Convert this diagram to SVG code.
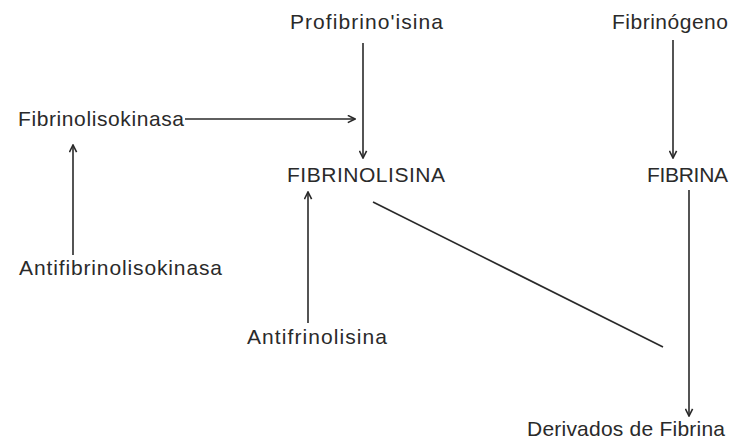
<svg xmlns="http://www.w3.org/2000/svg" width="735" height="445" viewBox="0 0 735 445">
<style>
text{font-family:"Liberation Sans",Arial,sans-serif;font-size:21px;fill:#2a2a2a}
.c line{stroke:#2a2a2a;stroke-width:1.6;fill:none}
</style>
<defs>
<marker id="ah" viewBox="0 0 10 10" refX="9" refY="5" markerWidth="9" markerHeight="9" markerUnits="userSpaceOnUse" orient="auto">
<path d="M1,1 L9,5 L1,9" fill="none" stroke="#2a2a2a" stroke-width="1.8"/>
</marker>
</defs>
<rect width="735" height="445" fill="#fff"/>
<g id="profibrinolisina"><text x="290" y="29" textLength="153" lengthAdjust="spacing">Profibrino'isina</text></g>
<g id="fibrinogeno"><text x="612" y="29" textLength="116" lengthAdjust="spacing">Fibrinógeno</text></g>
<g id="fibrinolisokinasa"><text x="18" y="126" textLength="166" lengthAdjust="spacing">Fibrinolisokinasa</text></g>
<g id="fibrinolisina"><text x="287" y="182" textLength="158" lengthAdjust="spacing">FIBRINOLISINA</text></g>
<g id="fibrina"><text x="647" y="182" textLength="81" lengthAdjust="spacing">FIBRINA</text></g>
<g id="antifibrinolisokinasa"><text x="19" y="275" textLength="203" lengthAdjust="spacing">Antifibrinolisokinasa</text></g>
<g id="antifrinolisina"><text x="247" y="344" textLength="140" lengthAdjust="spacing">Antifrinolisina</text></g>
<g id="derivados"><text x="527" y="436" textLength="198" lengthAdjust="spacing">Derivados de Fibrina</text></g>
<g id="connectors" class="c">
<line x1="363" y1="43" x2="363" y2="158" marker-end="url(#ah)"/>
<line x1="185" y1="119" x2="355" y2="119" marker-end="url(#ah)"/>
<line x1="673" y1="40" x2="673" y2="158" marker-end="url(#ah)"/>
<line x1="73" y1="255" x2="73" y2="145" marker-end="url(#ah)"/>
<line x1="308" y1="323" x2="308" y2="192" marker-end="url(#ah)"/>
<line x1="689" y1="190" x2="689" y2="416" marker-end="url(#ah)"/>
<line x1="373" y1="202" x2="663" y2="347"/>
</g>
</svg>
